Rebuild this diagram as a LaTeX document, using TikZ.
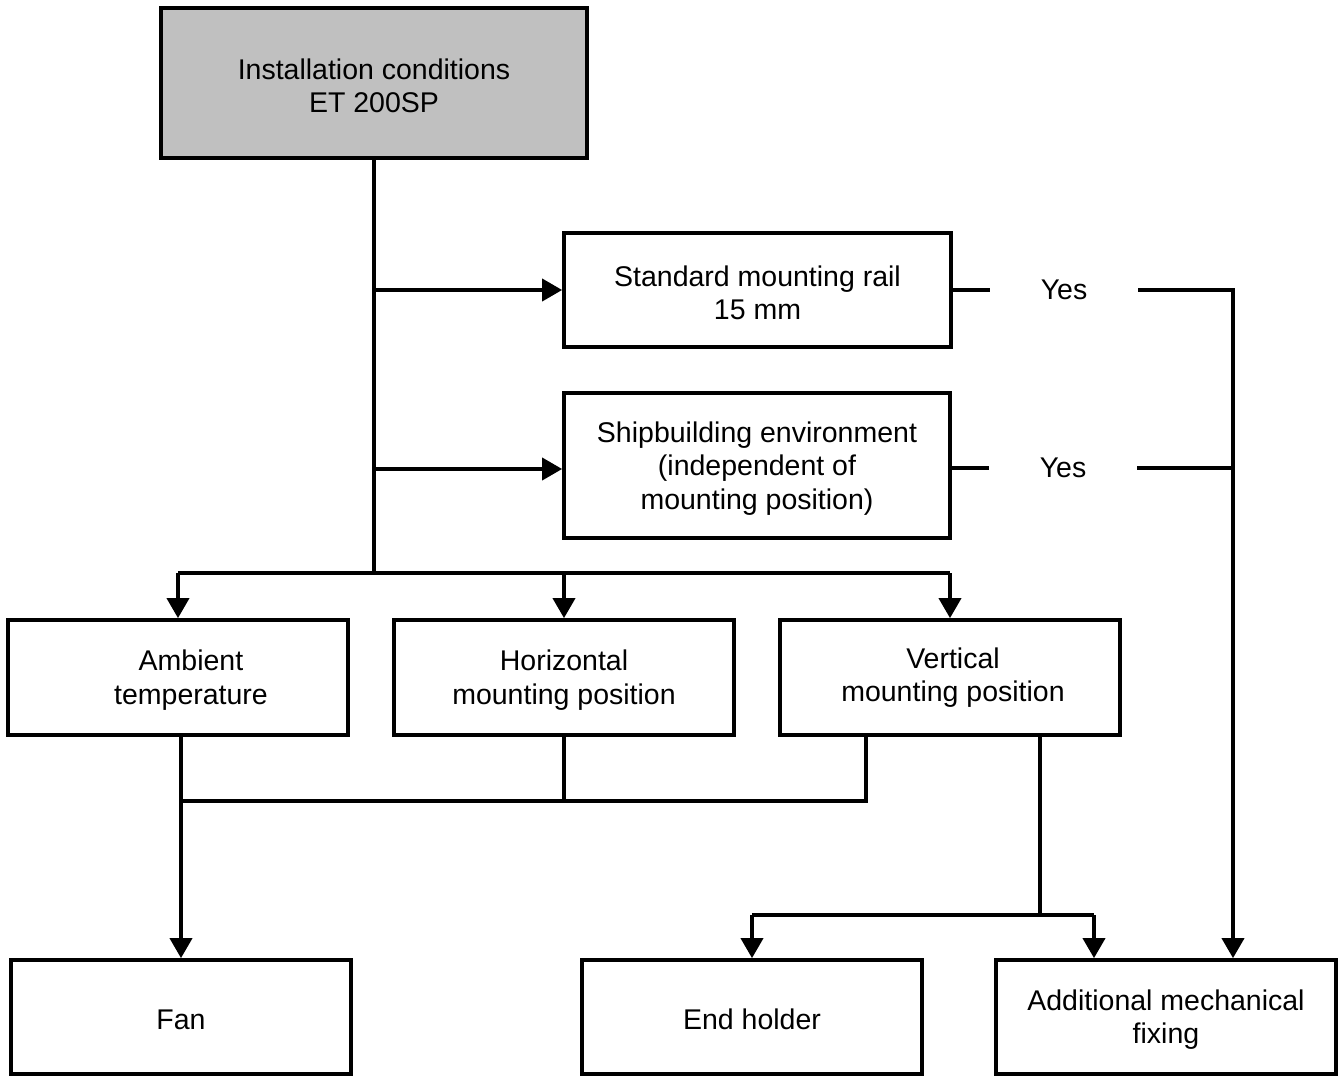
\documentclass[tikz,border=0pt]{standalone}
\usepackage{fontspec}
\setmainfont{Liberation Sans}
\usetikzlibrary{arrows.meta}
\definecolor{headgray}{RGB}{192,192,192}
\begin{document}
\begin{tikzpicture}[x=1pt,y=-1pt,line width=3.7pt,
  box/.style={draw,line width=3.7pt,align=center,inner sep=0pt,
    font=\fontsize{28.5}{33.5}\selectfont},
  lbl/.style={inner sep=0pt,font=\fontsize{28.5}{33.5}\selectfont,minimum height=30pt},
  arr/.style={-{Triangle[width=22pt,length=20pt]}}]
\useasboundingbox (0,0) rectangle (1342,1081);

\node[box,fill=headgray,minimum width=426pt,minimum height=150pt] (top) at (374,83)
  {\rule{0pt}{26pt}Installation conditions\\ET 200SP};
\node[box,minimum width=387pt,minimum height=114pt] (rail) at (757.5,290)
  {\rule{0pt}{26pt}Standard mounting rail\\15 mm};
\node[box,minimum width=386pt,minimum height=145pt] (ship) at (757,465.5)
  {\rule{0pt}{26pt}Shipbuilding environment\\(independent of\\mounting position)};
\node[box,minimum width=340pt,minimum height=115pt] (amb) at (178,677.5)
  {\rule{0pt}{26pt}\hspace*{26pt}Ambient\\\hspace*{26pt}temperature};
\node[box,minimum width=340pt,minimum height=115pt] (hor) at (564,677.5)
  {\rule{0pt}{26pt}Horizontal\\mounting position};
\node[box,minimum width=340pt,minimum height=115pt] (ver) at (950,677.5)
  {\hspace*{6pt}Vertical\\\hspace*{6pt}mounting position};
\node[box,minimum width=340pt,minimum height=114pt] (fan) at (181,1017) {\rule{0pt}{26pt}Fan};
\node[box,minimum width=340pt,minimum height=114pt] (end) at (752,1017) {\rule{0pt}{26pt}End holder};
\node[box,minimum width=340pt,minimum height=114pt] (add) at (1166,1017)
  {\rule{0pt}{26pt}Additional mechanical\\fixing};

\node[lbl,minimum width=145pt] (yes1) at (1064,290) {Yes};
\node[lbl,minimum width=145pt] (yes2) at (1063,468) {Yes};

\coordinate (j0) at (0,573);
\coordinate (j1) at (0,801);
\coordinate (j2) at (0,915);
\coordinate (shipin) at ([yshift=-3.5pt]ship.west);
\coordinate (addin) at ([xshift=67pt]add.north);
\coordinate (addL) at ([xshift=-72pt]add.north);
\coordinate (v1) at ([xshift=-84pt]ver.south);
\coordinate (v2) at ([xshift=90pt]ver.south);

% trunk
\draw (top.south) -- (top.south |- j0);
\draw[arr] (top.south |- rail.west) -- (rail.west);
\draw[arr] (top.south |- shipin) -- (shipin);
\draw (amb.north |- j0) -- (ver.north |- j0);
\draw[arr] (amb.north |- j0) -- (amb.north);
\draw[arr] (hor.north |- j0) -- (hor.north);
\draw[arr] (ver.north |- j0) -- (ver.north);

% Yes branches
\draw (rail.east |- yes1) -- (yes1.west);
\draw (ship.east |- yes2) -- (yes2.west);
\draw[arr] (yes1.east) -| (addin);
\draw (yes2.east) -- (yes2.east -| addin);

% bottom
\draw[arr] (fan.north |- amb.south) -- (fan.north);
\draw (hor.south) -- (hor.south |- j1);
\draw (v1) |- (fan.north |- j1);
\draw (v2) -- (v2 |- j2);
\draw (end.north |- j2) -- (addL |- j2);
\draw[arr] (end.north |- j2) -- (end.north);
\draw[arr] (addL |- j2) -- (addL);
\end{tikzpicture}
\end{document}
